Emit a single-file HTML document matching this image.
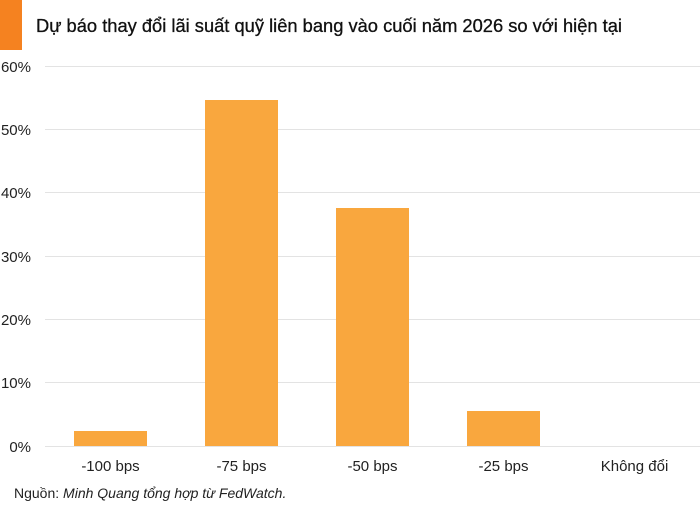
<!DOCTYPE html><html><head><meta charset="utf-8"><style>body{margin:0;width:700px;height:509px;background:#fff;overflow:hidden;font-family:"Liberation Sans",sans-serif}</style></head><body>
<svg width="700" height="509" xmlns="http://www.w3.org/2000/svg" font-family="Liberation Sans, sans-serif">
<rect x="0" y="0" width="22" height="50" fill="#f58220"/>
<text x="36" y="32" font-size="18" fill="#111" stroke="#111" stroke-width="0.3" textLength="586" lengthAdjust="spacingAndGlyphs">Dự báo thay đổi lãi suất quỹ liên bang vào cuối năm 2026 so với hiện tại</text>
<g stroke="#e3e3e3" stroke-width="1">
<line x1="45" x2="700" y1="66.5" y2="66.5"/><line x1="45" x2="700" y1="129.5" y2="129.5"/><line x1="45" x2="700" y1="192.5" y2="192.5"/><line x1="45" x2="700" y1="256.5" y2="256.5"/><line x1="45" x2="700" y1="319.5" y2="319.5"/><line x1="45" x2="700" y1="382.5" y2="382.5"/><line x1="45" x2="700" y1="446.5" y2="446.5"/></g>
<g font-size="15" fill="#222" text-anchor="end">
<text x="31" y="72">60%</text><text x="31" y="135">50%</text><text x="31" y="198">40%</text><text x="31" y="262">30%</text><text x="31" y="325">20%</text><text x="31" y="388">10%</text><text x="31" y="452">0%</text></g>
<g fill="#f9a73e">
<rect x="74" y="431" width="73" height="15"/><rect x="205" y="100" width="73" height="346"/><rect x="336" y="208" width="73" height="238"/><rect x="467" y="411" width="73" height="35"/></g>
<g font-size="15" fill="#222" text-anchor="middle">
<text x="110.5" y="471">-100 bps</text><text x="241.5" y="471">-75 bps</text><text x="372.5" y="471">-50 bps</text><text x="503.5" y="471">-25 bps</text><text x="634.5" y="471">Không đổi</text></g>
<text x="14" y="498" font-size="14" fill="#222">Nguồn: <tspan font-style="italic">Minh Quang tổng hợp từ FedWatch.</tspan></text>
</svg></body></html>
